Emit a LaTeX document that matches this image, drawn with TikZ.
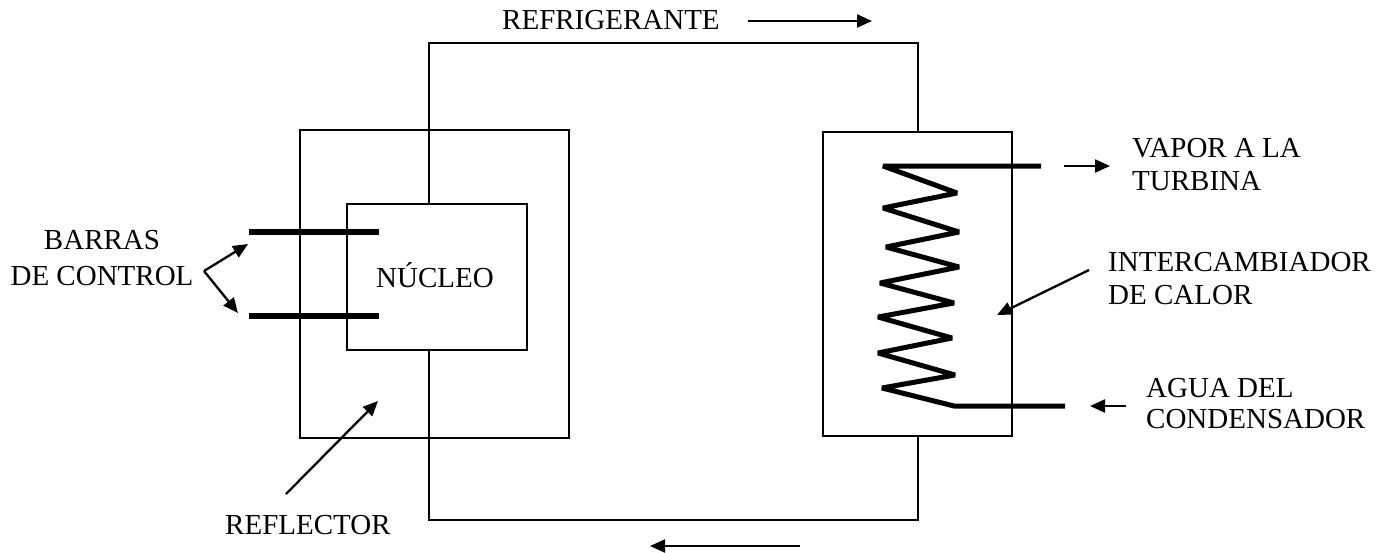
\documentclass[tikz,border=0pt]{standalone}
\usepackage{fontspec}
\setmainfont{Liberation Serif}
\usetikzlibrary{arrows.meta,calc}
\begin{document}
\begin{tikzpicture}[x=1pt,y=-1pt,
  wire/.style={line width=2pt},
  box/.style={draw, line width=2pt, inner sep=0pt, outer sep=0pt},
  lbl/.style={font=\fontsize{29}{33}\selectfont, inner sep=0pt},
  ptr/.style={line width=2.3pt, -{Triangle[length=15pt,width=13pt]}},
  rod/.style={line width=6pt},
  coil/.style={line width=5pt, line join=bevel}]
\useasboundingbox (0,0) rectangle (1392,552);
% boxes
\node[box, minimum width=269pt, minimum height=308pt] (refl) at (434.5,284) {};
\node[box, minimum width=180pt, minimum height=146pt] (core) at (437,277) {};
\node[box, minimum width=189pt, minimum height=304pt] (hx) at (917.5,284) {};
% coolant loop
\coordinate (lt) at (429,43);
\coordinate (lb) at (429,520);
\draw[wire] (core.north -| lt) -- (lt) -| (hx.north);
\draw[wire] (hx.south) |- (lb) -- (core.south -| lb);
% control rods
\draw[rod] (249,232) -- (379,232);
\draw[rod] (249,316) -- (379,316);
% coil
\draw[coil] (1041,166) -- (883,166) -- (957,193) -- (883,208) -- (959,232) -- (886,247)
  -- (959,267) -- (880,283) -- (954,303) -- (878,317) -- (952,338) -- (878,353)
  -- (955,375) -- (882,388) -- (954,406) -- (1065,406);
% labels
\node[lbl, anchor=base] (barras) at (102,249) {BARRAS};
\node[lbl, anchor=base] (decontrol) at (102,285) {DE CONTROL};
\node[lbl, anchor=base] (nucleo) at (435,287) {NÚCLEO};
\node[lbl, anchor=base west] (refri) at (502,29) {REFRIGERANTE};
\node[lbl, anchor=base west] (reflector) at (225,534) {REFLECTOR};
\node[lbl, anchor=base west] (vapor1) at (1132,157) {VAPOR A LA};
\node[lbl, anchor=base west] (vapor2) at (1132,190) {TURBINA};
\node[lbl, anchor=base west] (inter1) at (1108,271) {INTERCAMBIADOR};
\node[lbl, anchor=base west] (inter2) at (1108,304) {DE CALOR};
\node[lbl, anchor=base west] (agua1) at (1146,397) {AGUA DEL};
\node[lbl, anchor=base west] (agua2) at (1146,428) {CONDENSADOR};
% arrows
\coordinate (bv) at (204,271);
\coordinate (bt1) at (248,244);
\coordinate (bt2) at (238,313);
\draw[ptr] (bv) -- (bt1);
\draw[ptr] (bv) -- (bt2);
\coordinate (ra) at (748,21); \coordinate (rb) at (872,21);
\draw[ptr] (ra) -- (rb);
\coordinate (ba) at (800,546); \coordinate (bb) at (650,546);
\draw[ptr] (ba) -- (bb);
\coordinate (fa) at (286,494); \coordinate (fb) at (378,401);
\draw[ptr] (fa) -- (fb);
\coordinate (ia) at (1089,270); \coordinate (ib) at (997,315);
\draw[ptr] (ia) -- (ib);
\coordinate (va) at (1064,166); \coordinate (vb) at (1110,166);
\draw[ptr] (va) -- (vb);
\coordinate (aa) at (1126,406); \coordinate (ab) at (1090,406);
\draw[ptr] (aa) -- (ab);
\end{tikzpicture}
\end{document}
